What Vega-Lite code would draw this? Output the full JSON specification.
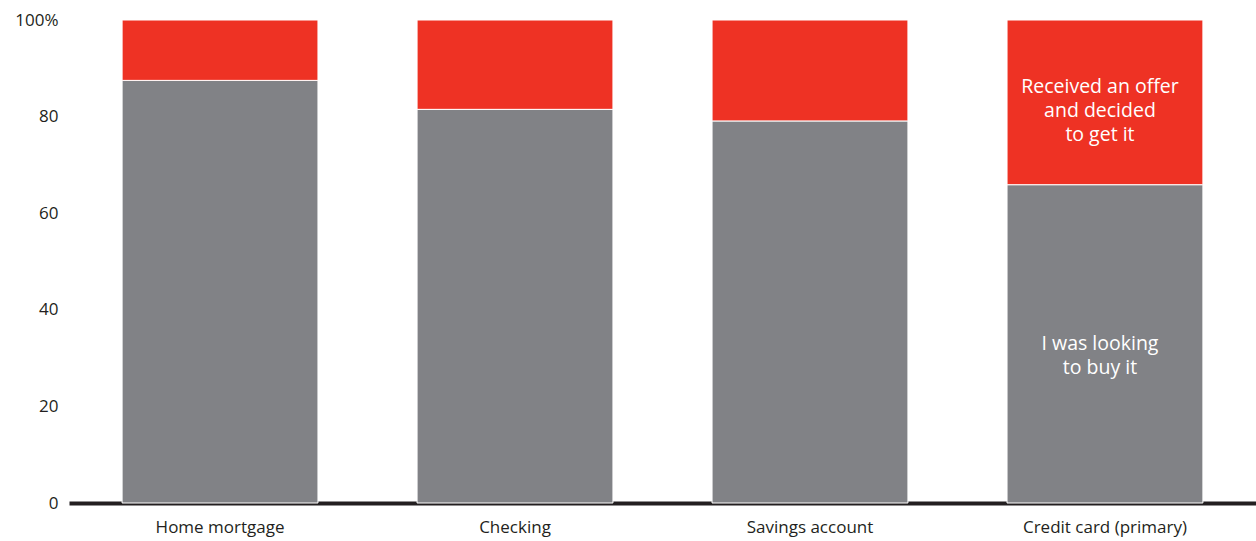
{
  "$schema": "https://vega.github.io/schema/vega-lite/v6.json",
  "width": 1187,
  "height": 483,
  "autosize": "none",
  "padding": {"left": 69, "top": 20, "right": 0, "bottom": 38},
  "background": "white",
  "config": {"view": {"stroke": null}, "font": "Open Sans"},
  "layer": [
    {
      "data": {"values": [
        {"product": "Home mortgage", "reason": "I was looking to buy it", "order": 1, "value": 87.5},
        {"product": "Home mortgage", "reason": "Received an offer and decided to get it", "order": 2, "value": 12.5},
        {"product": "Checking", "reason": "I was looking to buy it", "order": 1, "value": 81.5},
        {"product": "Checking", "reason": "Received an offer and decided to get it", "order": 2, "value": 18.5},
        {"product": "Savings account", "reason": "I was looking to buy it", "order": 1, "value": 79.1},
        {"product": "Savings account", "reason": "Received an offer and decided to get it", "order": 2, "value": 20.9},
        {"product": "Credit card (primary)", "reason": "I was looking to buy it", "order": 1, "value": 65.9},
        {"product": "Credit card (primary)", "reason": "Received an offer and decided to get it", "order": 2, "value": 34.1}
      ]},
      "mark": {"type": "bar", "stroke": "white", "strokeWidth": 1},
      "encoding": {
        "x": {
          "field": "product", "type": "nominal",
          "sort": ["Home mortgage", "Checking", "Savings account", "Credit card (primary)"],
          "scale": {"paddingInner": 0.336, "paddingOuter": 0.18},
          "axis": {"title": null, "labelAngle": 0, "ticks": false, "domainColor": "#231f20", "domainWidth": 4, "labelFontSize": 17, "labelColor": "#231f20", "labelPadding": 16, "labelFont": "Open Sans"}
        },
        "y": {
          "field": "value", "type": "quantitative", "stack": "zero",
          "scale": {"domain": [0, 100]},
          "axis": {"title": null, "values": [0, 20, 40, 60, 80, 100], "labelExpr": "datum.value == 100 ? '100%' : datum.label", "domain": false, "ticks": false, "grid": false, "labelFontSize": 17, "labelColor": "#231f20", "labelPadding": 11, "labelFont": "Open Sans"}
        },
        "color": {
          "field": "reason", "type": "nominal",
          "scale": {"domain": ["I was looking to buy it", "Received an offer and decided to get it"], "range": ["#818286", "#EE3224"]},
          "legend": null
        },
        "order": {"field": "order", "type": "quantitative"}
      }
    },
    {
      "data": {"values": [
        {"product": "Credit card (primary)", "pos": 86.1, "label": ["Received an offer", "and decided", "to get it"]},
        {"product": "Credit card (primary)", "pos": 32.9, "label": ["I was looking", "to buy it"]}
      ]},
      "mark": {"type": "text", "color": "white", "fontSize": 19.5, "lineHeight": 24, "align": "center", "baseline": "middle", "dx": -5, "font": "Open Sans"},
      "encoding": {
        "x": {"field": "product", "type": "nominal", "sort": ["Home mortgage", "Checking", "Savings account", "Credit card (primary)"]},
        "y": {"field": "pos", "type": "quantitative"},
        "text": {"field": "label"}
      }
    }
  ]
}
